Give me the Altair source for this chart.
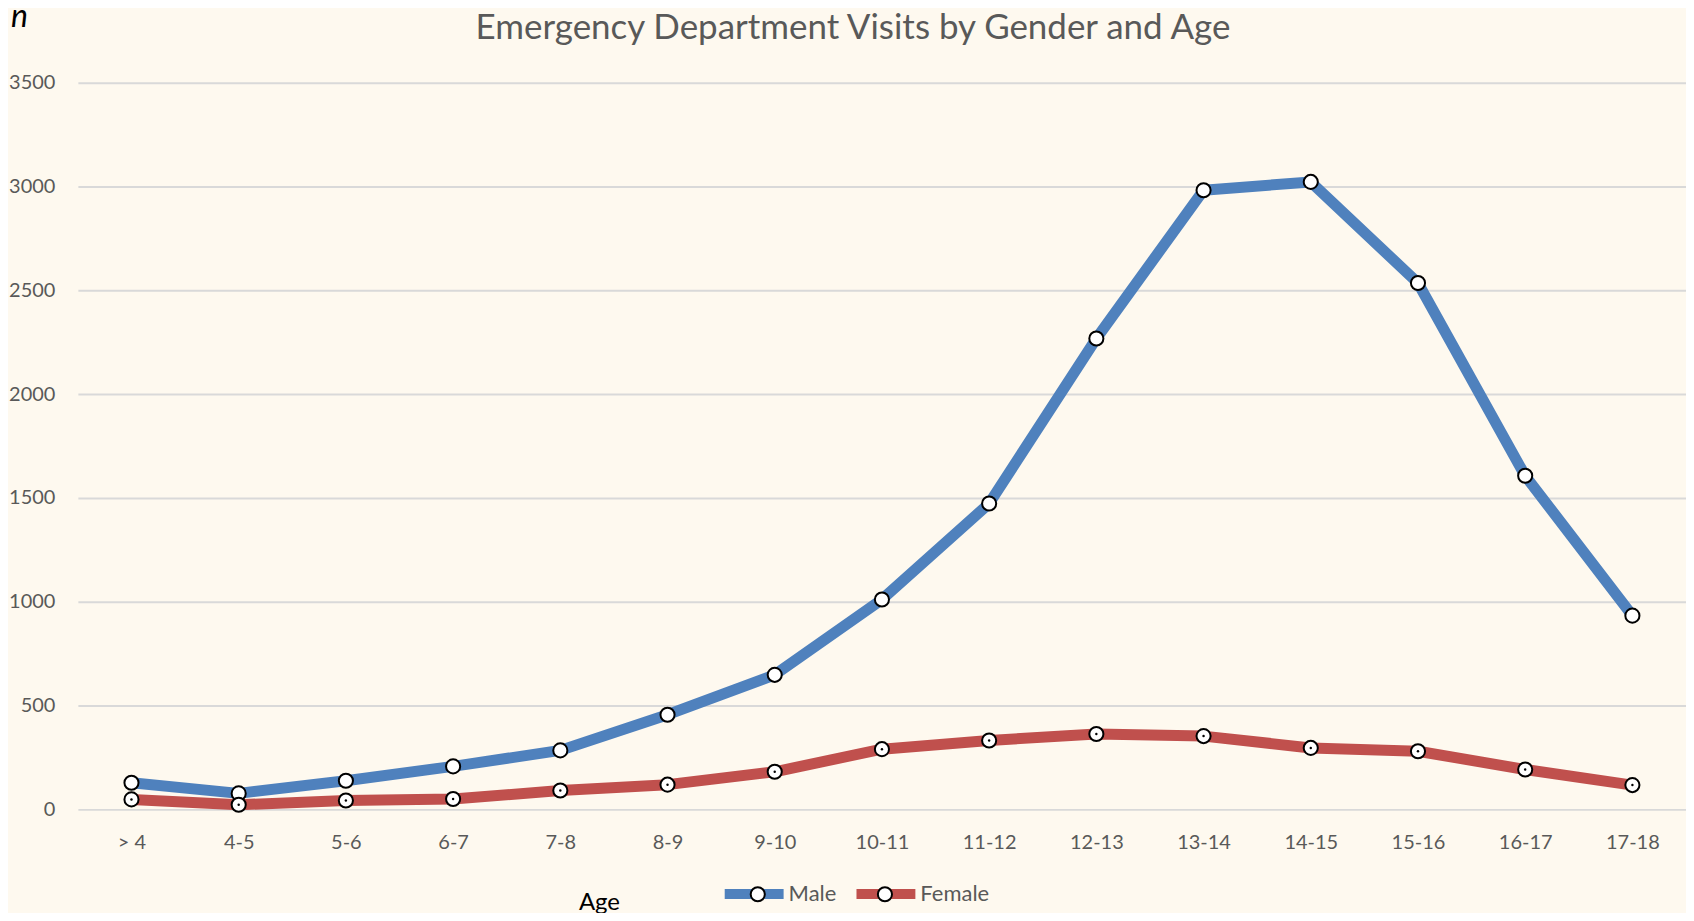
import altair as alt
import pandas as pd

ages = ["> 4", "4-5", "5-6", "6-7", "7-8", "8-9", "9-10", "10-11",
        "11-12", "12-13", "13-14", "14-15", "15-16", "16-17", "17-18"]
male = [128, 77, 138, 207, 284, 456, 648, 1011, 1473, 2268, 2982, 3022, 2535, 1607, 933]
female = [48, 22, 43, 50, 91, 119, 181, 290, 332, 363, 353, 296, 280, 192, 117]
genders = ["Male", "Female"]
line_colors = ["#4F81BD", "#C0504D"]

rows = []
for i, a in enumerate(ages):
    rows.append({"age": a, "gender": "Male", "g2": "Male ", "n": male[i]})
for i, a in enumerate(ages):
    rows.append({"age": a, "gender": "Female", "g2": "Female ", "n": female[i]})
df = pd.DataFrame(rows)

FONT = "Lato"
GRAY = "#595959"

x_enc = alt.X(
    "age:N", sort=ages,
    scale=alt.Scale(type="point", padding=0.5),
    axis=alt.Axis(
        title="Age", labelAngle=0, ticks=False, domain=False, grid=False,
        labelPadding=23, labelFont=FONT, labelFontSize=20, labelColor=GRAY,
        titleFont=FONT, titleFontSize=24, titleFontWeight="normal", titleColor="black",
        titleX=522, titleY=93, titleAlign="center", titleBaseline="middle",
    ),
)
y_enc = alt.Y(
    "n:Q",
    scale=alt.Scale(domain=[0, 3500]),
    axis=alt.Axis(
        title="n", values=list(range(0, 3501, 500)), format="d",
        ticks=False, domain=False, labelPadding=23,
        labelFont=FONT, labelFontSize=20, labelColor=GRAY,
        gridColor="#D9D9D9", gridWidth=2,
        titleAngle=0, titleX=-59, titleY=-56, titleAlign="center",
        titleBaseline="alphabetic", titleFont=FONT, titleFontSize=32,
        titleFontStyle="italic", titleFontWeight="normal", titleColor="black",
    ),
)

LEG_SIZE = 3481
LEG_X = 643
LEG_Y = 778
circle_path = "M -0.24 0 A 0.24 0.24 0 1 0 0.24 0 A 0.24 0.24 0 1 0 -0.24 0 Z"

lines = alt.Chart(df).mark_line(strokeWidth=11, strokeJoin="round").encode(
    x=x_enc, y=y_enc,
    color=alt.Color(
        "gender:N", sort=genders,
        scale=alt.Scale(domain=genders, range=line_colors),
        legend=alt.Legend(
            title=None, orient="none", direction="horizontal",
            legendX=LEG_X, legendY=LEG_Y, symbolType="stroke", symbolSize=LEG_SIZE,
            symbolStrokeWidth=10, labelFont=FONT, labelFontSize=22,
            labelColor=GRAY, labelOffset=0, columnPadding=0,
        ),
    ),
)

points = alt.Chart(df).mark_point(
    filled=True, stroke="black", strokeWidth=2, size=200, opacity=1
).encode(
    x=x_enc, y=y_enc,
    fill=alt.Fill(
        "g2:N", sort=["Male ", "Female "],
        scale=alt.Scale(domain=["Male ", "Female "], range=["white", "white"]),
        legend=alt.Legend(
            title=None, orient="none", direction="horizontal",
            legendX=LEG_X + 7.6, legendY=LEG_Y + 4.3, symbolType=circle_path,
            symbolSize=LEG_SIZE,
            symbolStrokeColor="black", symbolStrokeWidth=2, symbolOpacity=1,
            labelFont=FONT, labelFontSize=22, labelOpacity=0,
            labelOffset=0, columnPadding=18.4,
        ),
    ),
)

dots = alt.Chart(df).transform_filter(alt.datum.gender == "Female").mark_point(
    filled=True, color="black", size=6, opacity=1
).encode(x=x_enc, y=y_enc)

chart = alt.layer(lines, points, dots).properties(
    width=1611, height=728,
    title=alt.TitleParams(
        "Emergency Department Visits by Gender and Age",
        font=FONT, fontSize=35, fontWeight="normal", color=GRAY,
        anchor="middle", frame="group", dx=-29, dy=49,
    ),
    padding={"left": 70, "top": 74, "right": 0, "bottom": 103},
    autosize=alt.AutoSizeParams(type="none"),
    background="#FEF9EF",
).configure_view(stroke=None)

chart.save("out.html", embed_options={"renderer": "svg", "actions": False})
